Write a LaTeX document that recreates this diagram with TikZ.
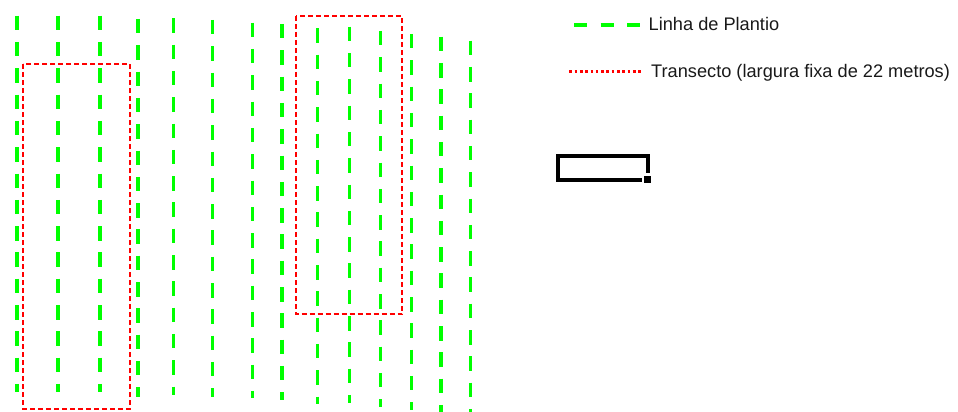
\documentclass[tikz,border=0pt]{standalone}
\usepackage{fontspec}
\setmainfont{Liberation Sans}
\definecolor{plantgreen}{RGB}{0,255,0}
\definecolor{transred}{RGB}{255,0,0}
\begin{document}
\begin{tikzpicture}[x=1pt,y=-1pt,
  plantline/.style={draw=plantgreen,line width=3.5pt,dash pattern=on 14.5pt off 11.8pt},
  legendgreen/.style={draw=plantgreen,line width=4pt,dash pattern=on 13pt off 13.5pt},
  transect/.style={draw=transred,line width=1.8pt,dash pattern=on 5pt off 3pt},
  legendred/.style={draw=transred,line width=3pt,dash pattern=on 2.6pt off 2.7pt},
  legendtext/.style={anchor=base west,inner sep=0pt,font=\fontsize{18.2}{20}\selectfont,text=black!90}
]
\useasboundingbox (0,0) rectangle (958,412);
\begin{scope}
\clip (0,0) rectangle (958,412);
% planting lines
\foreach \x/\t/\b in {17/15.7/391.7, 58/15.7/391.7, 100/15.7/391.7, 138/19/396.7,
  173.3/18.3/395, 212.7/20/396.7, 252.7/22.7/398.3, 282/24/400,
  317.3/28.3/404.3, 349.3/26.7/402.7, 380.7/31/406.7, 411.7/34/410,
  441/36.7/413, 470.7/40.7/417}
  \draw[plantline] (\x,\t) -- (\x,\b);
\end{scope}
% transects
\draw[transect] (23,64) rectangle (130,409);
\draw[transect] (295.7,16) rectangle (402.3,314);
% legend
\coordinate (lg1) at (574,25);
\coordinate (lg2) at (641,25);
\draw[legendgreen] (lg1) -- (lg2);
\node[legendtext] (t1) at (648.5,30.7) {Linha de Plantio};
\coordinate (lr1) at (569.3,71.5);
\coordinate (lr2) at (641,71.5);
\draw[legendred] (lr1) -- (lr2);
\node[legendtext] (t2) at (651,77.3) {Transecto (largura fixa de 22 metros)};
% black box with handle
\draw[line width=4pt] (641.7,179.5) -- (557.8,179.5) -- (557.8,156.2) -- (648.2,156.2) -- (648.2,173.3);
\fill (644,176) rectangle (650.7,183.3);
\end{tikzpicture}
\end{document}
